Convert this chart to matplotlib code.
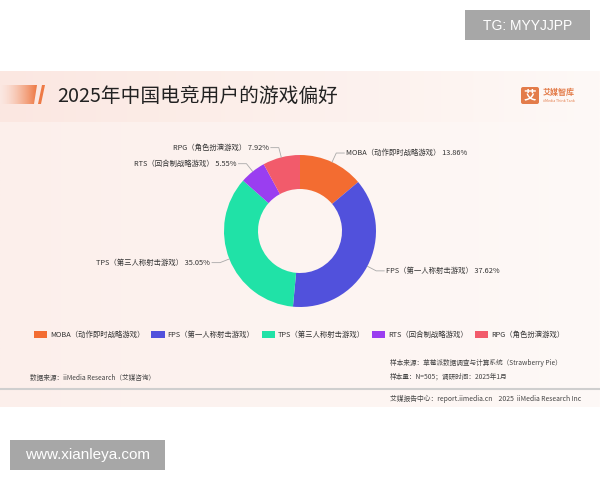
import numpy as np
import matplotlib
matplotlib.use("Agg")
import matplotlib.pyplot as plt
from matplotlib.patches import Rectangle, Polygon, FancyBboxPatch

plt.rcParams['font.family'] = ['Noto Sans CJK SC', 'DejaVu Sans']

# data
names = ["MOBA（动作即时战略游戏）", "FPS（第一人称射击游戏）", "TPS（第三人称射击游戏）",
         "RTS（回合制战略游戏）", "RPG（角色扮演游戏）"]
shares = [13.86, 37.62, 35.05, 5.55, 7.92]
colors = ["#f36c31", "#5151dc", "#20e2a7", "#9a3ef0", "#f25b6b"]
title = "2025年中国电竞用户的游戏偏好"
src_left = "数据来源：iiMedia Research（艾媒咨询）"
src_right = ["样本来源：草莓派数据调查与计算系统（Strawberry Pie）", "样本量：N=505；调研时间：2025年1月"]
footer = "艾媒报告中心：report.iimedia.cn    2025  iiMedia Research Inc"

fig = plt.figure(figsize=(6, 4.8), dpi=100)
bg = fig.add_axes([0, 0, 1, 1])
bg.set_xlim(0, 600)
bg.set_ylim(480, 0)
bg.axis('off')

# panel background with soft gradient
grad = np.linspace(0, 1, 256)
panel = np.zeros((2, 256, 3))
c1 = np.array([0xfc, 0xef, 0xeb]) / 255
c2 = np.array([0xfe, 0xf9, 0xf7]) / 255
for k in range(3):
    panel[:, :, k] = c1[k] + (c2[k] - c1[k]) * grad
bg.imshow(panel, extent=(0, 600, 407, 71), aspect='auto', zorder=0)
band = np.zeros((2, 256, 3))
b1 = np.array([0xfb, 0xe6, 0xdf]) / 255
for k in range(3):
    band[:, :, k] = b1[k] + (c2[k] - b1[k]) * grad
bg.imshow(band, extent=(0, 600, 122, 71), aspect='auto', zorder=0, alpha=0.8)

# title decoration
orange = np.zeros((1, 256, 4))
orange[0, :, 0] = 0xee / 255
orange[0, :, 1] = 0x78 / 255
orange[0, :, 2] = 0x42 / 255
orange[0, :, 3] = grad ** 1.5
im = bg.imshow(orange, extent=(0, 37, 104, 85), aspect='auto', zorder=1)
bar = Polygon([[0, 104], [0, 85], [37, 85], [34, 104]], closed=True, transform=bg.transData)
im.set_clip_path(bar)
bg.add_patch(Polygon([[38, 104], [42, 85], [45, 85], [41, 104]], closed=True,
                     facecolor="#ee7a45", edgecolor='none', zorder=1))
bg.text(57, 96, title, fontsize=14.2, va='center', ha='left', color="#222222")

# logo
bg.add_patch(FancyBboxPatch((521, 87), 18, 17, boxstyle="round,pad=0,rounding_size=2",
                            facecolor="#e37c4a", edgecolor='none'))
bg.text(530, 95.5, "艾", fontsize=9, color='white', ha='center', va='center', fontweight='bold')
bg.text(543, 92, "艾媒智库", fontsize=5.8, color="#e37c4a", ha='left', va='center', fontweight='bold')
bg.text(543, 100.5, "iiMedia Think Tank", fontsize=2.6, color="#e37c4a", ha='left', va='center')

# watermarks
bg.add_patch(Rectangle((465, 10), 125, 30, facecolor="#a7a7a7", edgecolor='none'))
bg.text(527.5, 25.5, "TG: MYYJJPP", fontsize=10, color='white', ha='center', va='center',
        family='Liberation Sans')
bg.add_patch(Rectangle((10, 440), 155, 30, facecolor="#a7a7a7", edgecolor='none'))
bg.text(87.5, 455.5, "www.xianleya.com", fontsize=11, color='white', ha='center', va='center',
        family='Liberation Sans')

# sources and footer
bg.text(30, 378, src_left, fontsize=4.8, color="#444444", va='center')
bg.text(390, 363, src_right[0], fontsize=4.8, color="#444444", va='center')
bg.text(390, 377, src_right[1], fontsize=4.8, color="#444444", va='center')
bg.plot([0, 600], [389, 389], color="#cfcfcf", lw=1.5)
bg.text(581, 399, footer, fontsize=4.9, color="#444444", va='center', ha='right')

# donut
ax = fig.add_axes([200 / 600, (480 - 231 - 100) / 480, 200 / 600, 200 / 480])
R = 0.76
wedges, _ = ax.pie(shares, colors=colors, radius=R, startangle=90, counterclock=False,
                   wedgeprops=dict(width=0.34, linewidth=0), center=(0, 0))
ax.set_xlim(-1, 1)
ax.set_ylim(-1, 1)
ax.axis('off')

for w, name, val in zip(wedges, names, shares):
    ang = np.deg2rad((w.theta1 + w.theta2) / 2)
    x0, y0 = R * np.cos(ang), R * np.sin(ang)
    x1, y1 = 0.86 * np.cos(ang), 0.86 * np.sin(ang)
    s = 1 if np.cos(ang) >= 0 else -1
    x2 = x1 + s * 0.08
    ax.plot([x0, x1, x2], [y0, y1, y1], color="#a9a9a9", lw=0.6, clip_on=False)
    ax.text(x2 + s * 0.02, y1, f"{name} {val:.2f}%", fontsize=5.3, color="#333333",
            ha='left' if s > 0 else 'right', va='center')

# legend
leg = fig.legend(wedges, names, loc='center', bbox_to_anchor=(299 / 600, 1 - 335 / 480),
                 ncol=5, frameon=False, fontsize=5.3, handlelength=1.8, handleheight=1.1,
                 handletextpad=0.4, columnspacing=0.95, fancybox=True)
for t in leg.get_texts():
    t.set_color("#333333")

fig.savefig("out.png", dpi=100)
